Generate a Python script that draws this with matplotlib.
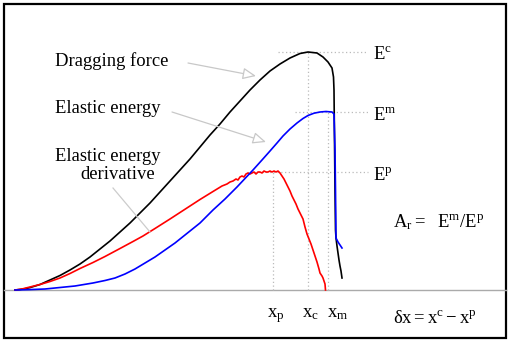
import matplotlib
matplotlib.use("Agg")
import matplotlib.pyplot as plt
from matplotlib.patches import Rectangle

plt.rcParams['font.family'] = ['Liberation Serif', 'DejaVu Serif']
plt.rcParams['mathtext.fontset'] = 'custom'
plt.rcParams['mathtext.rm'] = 'Liberation Serif'
plt.rcParams['mathtext.it'] = 'Liberation Serif'

# ---- data (x position, height above baseline) ----
drag_x = [15, 20, 25, 30, 40, 50, 60, 70, 80, 90, 100, 110, 120, 130, 140, 150, 160, 170, 180,
          190, 200, 210, 220, 230, 240, 250, 260, 270, 280, 290, 300, 308, 317, 323, 328, 332,
          333.5, 334, 334.5, 335, 335.5, 336, 337, 338, 339, 340, 341, 342]
drag_y = [0, 0.5, 1.3, 2.4, 5.5, 10, 14.5, 20, 26, 33, 41, 49, 58, 67, 77, 87, 98, 109, 120,
          131, 143, 155, 166, 178, 189, 200, 210, 219, 226, 232, 236.5, 238, 237, 233, 228, 222,
          213, 200, 150, 100, 60, 52, 44, 37, 30, 24, 19, 12]

elas_x = [15, 30, 45, 60, 75, 93, 105, 115, 125, 135, 145, 155, 165, 175, 185, 200, 213, 225,
          237, 253, 262, 270, 277, 283, 290, 297, 303, 308, 314, 320, 326, 332, 334, 335, 335.5,
          336, 338, 340, 342]
elas_y = [0, 0.4, 1, 2.5, 4, 7, 9.5, 12, 16, 21, 27, 33, 40, 47, 55, 67, 80, 91,
          103, 120, 130, 139, 147, 154, 161, 167, 171.5, 174.5, 176.8, 178, 178.5, 178, 176, 140, 100,
          52, 48, 45, 42]

deriv_x = [15, 22, 30, 40, 50, 60, 70, 80, 93, 105, 120, 133, 143, 155, 170, 180, 190, 200, 213,
           222, 227, 230, 233, 236, 238, 240, 242, 244, 246, 248, 250, 252, 254, 256, 258, 260,
           262, 264, 266, 268, 270, 272, 274, 276, 278, 280, 282, 284, 286, 288, 290, 292, 294,
           296, 298, 300, 302, 303, 305, 307, 309, 311, 313, 315, 317, 319, 320, 322, 323, 325,
           325.5]
deriv_y = [0, 1, 3, 5.5, 8.5, 12, 16.5, 21.5, 27.5, 33.5, 41.5, 48.5, 54, 61.5, 71, 77.5, 84, 90.5, 98.5,
           104, 106, 108, 109, 111, 110, 113, 114, 113, 116, 117, 116, 117, 118, 116, 118, 118,
           117, 119, 118, 118, 119, 118, 119, 118, 119, 117, 114, 111, 107, 103, 99, 94, 90,
           86, 81, 77, 73, 71, 63, 56, 51, 46, 40, 34, 28, 21, 17, 14, 12, 6,
           0]

E_c, E_m, E_p = 238, 178, 118
x_p, x_c, x_m = 273, 308, 328

fig = plt.figure(figsize=(5.10, 3.43), dpi=100)
ax = fig.add_axes([0, 0, 1, 1])
ax.set_xlim(0, 510)
ax.set_ylim(-53, 290)
ax.axis('off')

# border
ax.add_patch(Rectangle((4, -48), 502, 334, fill=False, ec='black', lw=1.6, clip_on=False))

# baseline
ax.plot([4, 506], [0, 0], color='#aaaaaa', lw=1.0)

# dotted reference lines
dcol = '#bbbbbb'
dkw = dict(color=dcol, lw=0.9, ls=(0, (1, 2)))
ax.plot([278, 368], [E_c, E_c], **dkw)
ax.plot([295, 368], [E_m, E_m], **dkw)
ax.plot([247, 368], [E_p, E_p], **dkw)
ax.plot([x_p, x_p], [0, E_p], **dkw)
ax.plot([x_c, x_c], [0, E_c], **dkw)
ax.plot([x_m, x_m], [0, E_m], **dkw)

# curves
ax.plot(drag_x, drag_y, color='black', lw=1.2)
ax.plot(deriv_x, deriv_y, color='#ff0000', lw=1.2)
ax.plot(elas_x, elas_y, color='#0000ff', lw=1.2)

# labels
fs = 13.4
ax.text(55, 224, 'Dragging force', fontsize=fs, va='baseline', ha='left')
ax.text(55, 177, 'Elastic energy', fontsize=fs, va='baseline', ha='left')
ax.text(55, 129, 'Elastic energy', fontsize=fs, va='baseline', ha='left')
ax.text(80, 111, 'derivative', fontsize=fs, va='baseline', ha='left')

akw = dict(arrowstyle='-|>,head_length=0.8,head_width=0.35', fc='white', ec='#c8c8c8', lw=0.9,
           shrinkA=0, shrinkB=0)
ax.annotate('', xy=(256, 214), xytext=(188, 227), arrowprops=akw)
ax.annotate('', xy=(266, 148), xytext=(172, 178), arrowprops=akw)
ax.plot([113, 150], [102, 58], color='#cccccc', lw=0.9)

ax.text(373, 231, r'$\mathrm{E^c}$', fontsize=fs, va='baseline', ha='left')
ax.text(373, 170, r'$\mathrm{E^m}$', fontsize=fs, va='baseline', ha='left')
ax.text(373, 110, r'$\mathrm{E^p}$', fontsize=fs, va='baseline', ha='left')
ax.text(393, 63, r'$\mathrm{A_r =\ \ E^m/E^p}$', fontsize=fs, va='baseline', ha='left')

ax.text(267, -27, r'$\mathrm{x_p}$', fontsize=fs, va='baseline', ha='left')
ax.text(302, -27, r'$\mathrm{x_c}$', fontsize=fs, va='baseline', ha='left')
ax.text(327, -27, r'$\mathrm{x_m}$', fontsize=fs, va='baseline', ha='left')
ax.text(393, -33, r'$\mathrm{\delta x = x^c - x^p}$', fontsize=fs, va='baseline', ha='left')

fig.savefig('out.png', dpi=100)
